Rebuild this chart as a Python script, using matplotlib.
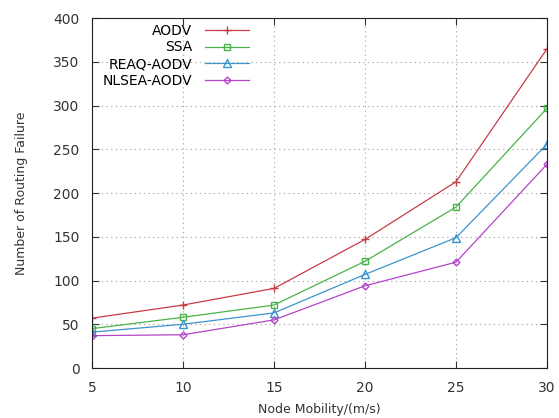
import numpy as np
import matplotlib
matplotlib.use('Agg')
import matplotlib.pyplot as plt

speed = [5, 10, 15, 20, 25, 30]
aodv = [57, 72, 91, 147, 213, 365]
ssa = [45, 58, 72, 122, 184, 297]
reaq = [41, 50, 63, 107, 149, 256]
nlsea = [37, 38, 55, 94, 121, 233]

plt.rcParams['font.family'] = 'DejaVu Sans'
fig = plt.figure(figsize=(5.59, 4.18), dpi=100)
ax = fig.add_axes([0.1646, 0.1196, 0.814, 0.837])

ax.plot(speed, aodv, color='#c83c48', marker='+', ms=6, mew=1, lw=0.9, label='AODV')
ax.plot(speed, ssa, color='#48b448', marker='s', ms=5, mfc='none', lw=0.9, label='SSA')
ax.plot(speed, reaq, color='#3c94cc', marker='^', ms=5.5, mfc='none', lw=0.9, label='REAQ-AODV')
ax.plot(speed, nlsea, color='#b444c8', marker='D', ms=3.5, mfc='none', lw=0.9, label='NLSEA-AODV')

ax.set_xlim(5, 30)
ax.set_ylim(0, 400)
ax.set_xticks(speed)
ax.set_yticks(np.arange(0, 401, 50))
ax.grid(True, linestyle=(0, (1.2, 3)), color='#aaaaaa', lw=0.8)
ax.tick_params(direction='in', right=True, top=True, labelsize=10, labelcolor='#333333',
               color='#333333', length=5, pad=9)
for s in ax.spines.values():
    s.set_color('#222222')
ax.set_xlabel('Node Mobility/(m/s)', fontsize=9, color='#333333', labelpad=6)
ax.set_ylabel('Number of Routing Failure', fontsize=9, color='#333333', labelpad=18)

ax.legend(loc='upper right', frameon=False, markerfirst=False, fontsize=10,
          handlelength=3.2, handletextpad=0.9, borderaxespad=0.0, labelspacing=0.2,
          bbox_to_anchor=(0.358, 1.0))

plt.savefig('out.png', dpi=100)
